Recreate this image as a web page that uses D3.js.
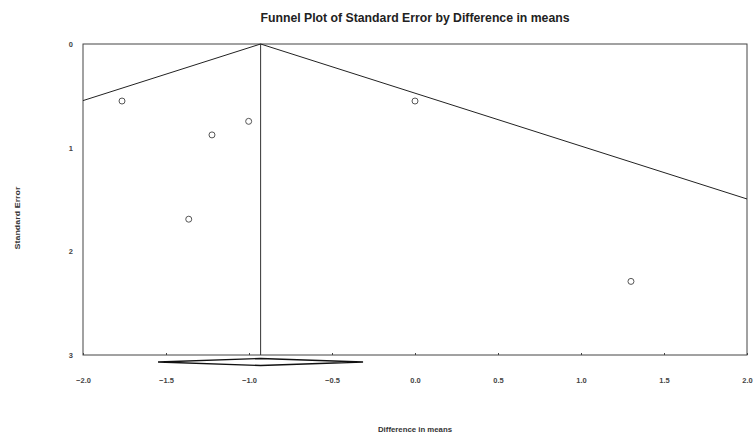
<!DOCTYPE html>
<html>
<head>
<meta charset="utf-8">
<script src="https://cdn.jsdelivr.net/npm/d3@7"></script>
<style>
  body { margin: 0; background: #fff; }
  text { font-family: "Liberation Sans", Arial, sans-serif; }
  .tick-label { font-size: 7.5px; font-weight: bold; fill: #444; }
  .axis-label { font-size: 8px; font-weight: bold; fill: #333; }
</style>
</head>
<body>
<div id="chart"></div>
<script>
// study effects (difference in means) and their standard errors
const effects = [-1.765, -1.223, -1.002, -1.363, 0.0, 1.301];
const stdErrors = [0.55, 0.877, 0.746, 1.69, 0.55, 2.29];

// pooled estimate and its confidence interval (diamond)
const pooled = -0.93;
const pooledLow = -1.548;
const pooledHigh = -0.313;

const xTicks = [-2.0, -1.5, -1.0, -0.5, 0.0, 0.5, 1.0, 1.5, 2.0];
const yTicks = [0, 1, 2, 3];

const margin = { top: 44, right: 7, bottom: 83, left: 83 };
const W = 754, H = 438;

const svg = d3.select("#chart").append("svg")
  .attr("width", W)
  .attr("height", H);

const g = svg.append("g")
  .attr("transform", `translate(${margin.left}, ${margin.top})`);

const x = d3.scaleLinear().domain([-2, 2]).range([0, 664]);
const y = d3.scaleLinear().domain([0, 3]).range([0, 311]);

// frame
g.append("rect")
  .attr("x", 0).attr("y", 0)
  .attr("width", x(2)).attr("height", y(3))
  .attr("fill", "none")
  .attr("stroke", "#444")
  .attr("stroke-width", 1);

// x axis ticks + labels
g.append("g")
  .attr("transform", `translate(0, ${y(3)})`)
  .call(d3.axisBottom(x).tickValues(xTicks).tickSize(-2).tickPadding(23).tickFormat(d3.format(".1f")))
  .call(a => a.select(".domain").remove())
  .call(a => a.selectAll("line").attr("stroke", "#444"))
  .call(a => a.selectAll("text").attr("class", "tick-label").attr("font-family", null).attr("font-size", null).attr("fill", null));

// y axis ticks + labels
g.append("g")
  .call(d3.axisLeft(y).tickValues(yTicks).tickSize(0).tickPadding(10).tickFormat(d3.format("d")))
  .call(a => a.select(".domain").remove())
  .call(a => a.selectAll("text").attr("class", "tick-label").attr("font-family", null).attr("font-size", null).attr("fill", null));

// funnel lines: pooled +/- 1.96 * SE
const seMax = 3;
const funnel = d3.line().x(d => x(d[0])).y(d => y(d[1]));
const leftSe = (pooled - (-2)) / 1.96;
const rightSe = (2 - pooled) / 1.96;
g.append("path")
  .datum([[-2, leftSe], [pooled, 0], [2, rightSe]])
  .attr("d", funnel)
  .attr("fill", "none")
  .attr("stroke", "#222")
  .attr("stroke-width", 1);

// vertical line at pooled estimate
g.append("line")
  .attr("x1", x(pooled)).attr("x2", x(pooled))
  .attr("y1", y(0)).attr("y2", y(seMax))
  .attr("stroke", "#333")
  .attr("stroke-width", 1);

// study points
g.append("g")
  .selectAll("circle")
  .data(effects)
  .join("circle")
  .attr("cx", d => x(d))
  .attr("cy", (d, i) => y(stdErrors[i]))
  .attr("r", 3)
  .attr("fill", "none")
  .attr("stroke", "#555")
  .attr("stroke-width", 1);

// pooled diamond below the axis
const dy = y(3) + 7;
g.append("path")
  .datum([[pooledLow, 0], [pooled, -3.5], [pooledHigh, 0], [pooled, 3.5]])
  .attr("d", d => "M" + d.map(p => `${x(p[0])},${dy + p[1]}`).join("L") + "Z")
  .attr("fill", "#fff")
  .attr("stroke", "#111")
  .attr("stroke-width", 1.3);

// title
svg.append("text")
  .attr("x", 415)
  .attr("y", 22)
  .attr("text-anchor", "middle")
  .attr("font-size", 12)
  .attr("font-weight", "bold")
  .attr("fill", "#222")
  .attr("textLength", 309)
  .attr("lengthAdjust", "spacingAndGlyphs")
  .text("Funnel Plot of Standard Error by Difference in means");

// axis titles
svg.append("text")
  .attr("class", "axis-label")
  .attr("x", 415)
  .attr("y", 432)
  .attr("text-anchor", "middle")
  .attr("textLength", 74)
  .attr("lengthAdjust", "spacingAndGlyphs")
  .text("Difference in means");

svg.append("text")
  .attr("class", "axis-label")
  .attr("transform", "translate(20, 218) rotate(-90)")
  .attr("text-anchor", "middle")
  .attr("textLength", 63)
  .attr("lengthAdjust", "spacingAndGlyphs")
  .text("Standard Error");
</script>
</body>
</html>
